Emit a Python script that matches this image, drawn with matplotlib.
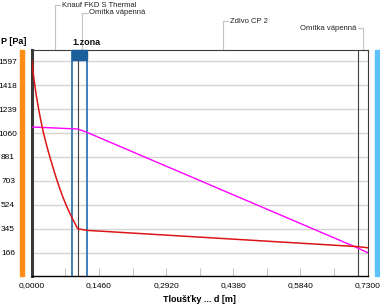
import numpy as np
import matplotlib
matplotlib.use("Agg")
import matplotlib.pyplot as plt
from matplotlib.patches import Rectangle

plt.rcParams['font.family'] = ['Liberation Sans', 'DejaVu Sans']

# Layers (boundaries in m) and names
layer_bounds = [0.0, 0.10, 0.12, 0.71, 0.73]
layer_names = ["Knauf FKD S Thermal", "Omítka vápenná", "Zdivo CP 2", "Omítka vápenná"]
# height of each leader label above the plot (axes fraction)
label_levels = [1.199, 1.164, 1.128, 1.097]

# Condensation zone
zone_start = 0.0876
zone_end = 0.12
zone_label = "1.zona"

# Saturated vapour pressure (red)
d_sat = [0.0, 0.005, 0.01, 0.015, 0.02, 0.025, 0.03, 0.035, 0.04, 0.045, 0.05,
         0.055, 0.06, 0.065, 0.07, 0.075, 0.08, 0.085, 0.09, 0.095, 0.10,
         0.12, 0.71, 0.73]
p_sat = [1605, 1460, 1340, 1240, 1150, 1070, 1000, 935, 875, 816, 760,
         706, 655, 607, 562, 520, 481, 445, 411, 378, 345,
         333, 211, 203]

# Partial vapour pressure (magenta)
d_par = [0.0, 0.10, 0.12, 0.71, 0.73]
p_par = [1105, 1090, 1065, 199, 166]

# Axis ticks
y_ticks = [166, 345, 524, 703, 881, 1060, 1239, 1418, 1597]
x_major = [0.0, 0.146, 0.292, 0.438, 0.584, 0.730]
x_major_labels = ["0,0000", "0,1460", "0,2920", "0,4380", "0,5840", "0,7300"]
x_minor = [0.073, 0.219, 0.365, 0.511, 0.657]

W, H = 380, 304
fig = plt.figure(figsize=(W / 100, H / 100), dpi=100)
ax = fig.add_axes([31.7 / W, 1 - 276 / H, 336 / W, 226 / H])

ax.set_xlim(0, 0.73)
ax.set_ylim(-8, 1680)

# gridlines
for v in y_ticks:
    ax.axhline(v, color="#d4d4d4", lw=1.0, zorder=1)

# curves
ax.plot(d_par, p_par, color="#ff00ff", lw=1.0, zorder=4)
ax.plot(d_sat, p_sat, color="#dd1515", lw=1.1, zorder=5)

# layer boundaries
for b in layer_bounds[1:-1]:
    if b == zone_end:
        continue
    ax.axvline(b, color="#404040", lw=0.8, zorder=3)
ax.axvline(zone_start, color="#3f7fb6", lw=1.4, zorder=3)
ax.axvline(zone_end, color="#1f6db5", lw=1.2, zorder=3)

# zone box and label
ax.add_patch(Rectangle((zone_start, 0.957), zone_end - zone_start, 0.043,
                       transform=ax.get_xaxis_transform(), color="#1a5e9c",
                       zorder=6, clip_on=False))
ax.text(zone_start, 1.015, zone_label, transform=ax.get_xaxis_transform(),
        fontsize=6.5, fontweight="bold", ha="left", va="bottom", color="#111111")

# layer leaders
trans = ax.get_xaxis_transform()
for i, name in enumerate(layer_names):
    c = (layer_bounds[i] + layer_bounds[i + 1]) / 2
    lev = label_levels[i]
    ax.plot([c, c], [1.0, lev], color="#c4c4c4", lw=0.8, transform=trans, clip_on=False)
    if i < len(layer_names) - 1:
        ax.plot([c, c + 0.012], [lev, lev], color="#c4c4c4", lw=0.8, transform=trans, clip_on=False)
        ax.text(c + 0.015, lev, name, transform=trans, fontsize=5.5, ha="left",
                va="center", color="#222222")
    else:
        ax.plot([c - 0.012, c], [lev, lev], color="#c4c4c4", lw=0.8, transform=trans, clip_on=False)
        ax.text(c - 0.015, lev, name, transform=trans, fontsize=5.5, ha="right",
                va="center", color="#222222")

# interior / exterior bars
ax.add_patch(Rectangle((-12.2 / 336, 0), 4.5 / 336, 1, transform=ax.transAxes,
                       color="#ff8c14", clip_on=False, zorder=2))
ax.add_patch(Rectangle((343.3 / 336, 0), 6 / 336, 1, transform=ax.transAxes,
                       color="#5cc0fa", clip_on=False, zorder=2))

# spines
ax.spines["left"].set_color("#3a3a3a")
ax.spines["left"].set_linewidth(2.2)
ax.spines["bottom"].set_color("#000000")
ax.spines["bottom"].set_linewidth(1.0)
ax.spines["top"].set_color("#3a3a3a")
ax.spines["top"].set_linewidth(0.8)
ax.spines["right"].set_color("#3a3a3a")
ax.spines["right"].set_linewidth(0.8)

# ticks
ax.set_yticks(y_ticks)
ax.set_yticklabels([str(v) for v in y_ticks])
ax.tick_params(axis="y", length=0, pad=17, labelsize=6)
for lbl in ax.get_yticklabels():
    lbl.set_horizontalalignment("center")

ax.set_xticks(x_major)
ax.set_xticklabels(x_major_labels)
ax.set_xticks(x_minor, minor=True)
ax.tick_params(axis="x", which="both", direction="in", length=6, width=0.8,
               color="#c8c8c8", labelsize=6, pad=4)

ax.set_xlabel("Tloušťky ... d [m]", fontsize=6.5, fontweight="bold", labelpad=5)
fig.text(1 / W, 1 - 42 / H, "P [Pa]", fontsize=6.5, fontweight="bold",
         ha="left", va="center")

fig.savefig("out.png", dpi=100)
